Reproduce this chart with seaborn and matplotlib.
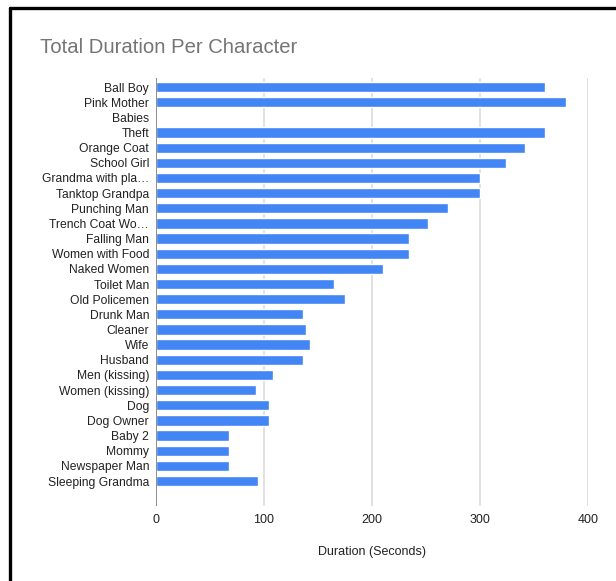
import matplotlib
matplotlib.use("Agg")
import matplotlib.pyplot as plt
import seaborn as sns
import pandas as pd
from matplotlib.lines import Line2D

characters = ["Ball Boy", "Pink Mother", "Babies", "Theft", "Orange Coat", "School Girl",
              "Grandma with pla\u2026", "Tanktop Grandpa", "Punching Man", "Trench Coat Wo\u2026",
              "Falling Man", "Women with Food", "Naked Women", "Toilet Man", "Old Policemen",
              "Drunk Man", "Cleaner", "Wife", "Husband", "Men (kissing)", "Women (kissing)",
              "Dog", "Dog Owner", "Baby 2", "Mommy", "Newspaper Man", "Sleeping Grandma"]
durations = [360, 380, 0, 360, 342, 324, 300, 300, 270, 252, 234, 234, 210, 165, 175,
             136, 139, 143, 136, 108, 93, 105, 105, 68, 68, 68, 94]
x_ticks = [0, 100, 200, 300, 400]

df = pd.DataFrame({"Character": characters, "Duration": durations})

sns.set_theme(style="white")
plt.rcParams["font.family"] = ["Liberation Sans", "DejaVu Sans"]

W, H = 616, 581
fig = plt.figure(figsize=(W / 100, H / 100), dpi=100)
ax = fig.add_axes([156 / W, 1 - 506 / H, 432 / W, 428 / H])

sns.barplot(data=df, y="Character", x="Duration", order=characters, orient="h",
            color="#4285F4", saturation=1, width=0.68, ax=ax, zorder=3)

ax.set_xlim(0, 400)
n = len(characters)
ax.set_ylim(n - 1 + 1.65, -0.6)
ax.set_xticks(x_ticks)
ax.set_xticklabels([str(t) for t in x_ticks])
for t in x_ticks[1:]:
    ax.axvline(t, color="#dcdcdc", lw=1.2, zorder=1)
ax.axvline(0, color="#7a7a7a", lw=1.2, zorder=4)
for s in ax.spines.values():
    s.set_visible(False)
ax.tick_params(axis="both", length=0, labelsize=9, colors="#222222")
ax.tick_params(axis="y", pad=5, labelsize=8.7)
ax.tick_params(axis="x", pad=6)
ax.set_ylabel("")
ax.set_xlabel("Duration (Seconds)", fontsize=9, color="#222222", labelpad=14)

fig.text(40 / W, 1 - 47.5 / H, "Total Duration Per Character", fontsize=14.6,
         color="#757575", va="center", ha="left")

# outer frame (left and top edges)
fig.add_artist(Line2D([10 / W, 10 / W], [0, 1 - 7.5 / H], color="black", lw=2.4,
                      transform=fig.transFigure))
fig.add_artist(Line2D([10 / W, 1], [1 - 7.5 / H, 1 - 7.5 / H], color="black", lw=2.4,
                      transform=fig.transFigure))

fig.savefig("out.png", dpi=100)
